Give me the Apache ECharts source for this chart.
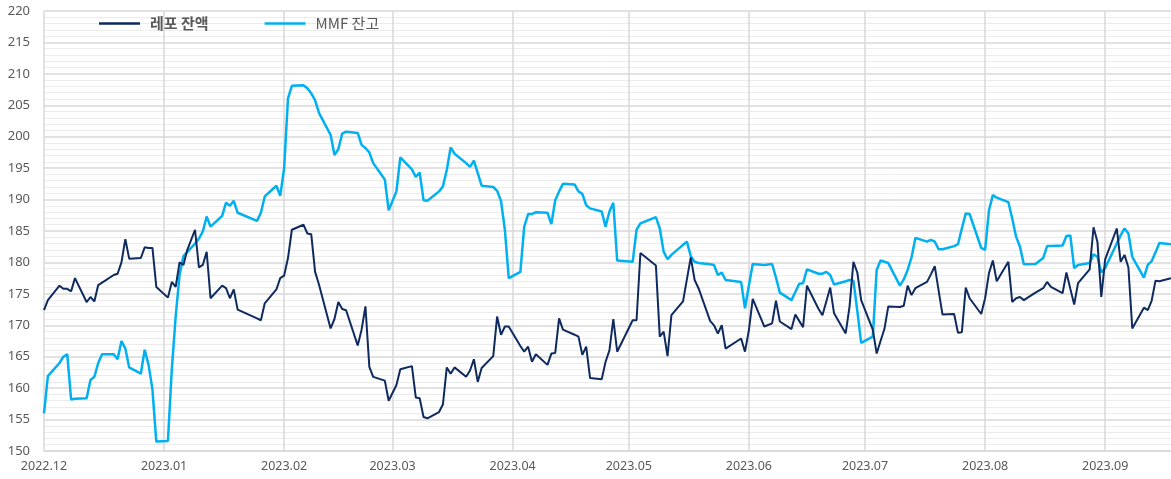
<!DOCTYPE html>
<html>
<head>
<meta charset="utf-8">
<script src="https://cdn.jsdelivr.net/npm/echarts@6/dist/echarts.min.js"></script>
<style>
html,body{margin:0;padding:0;background:#fff;}
#chart{width:1171px;height:479px;}
</style>
</head>
<body>
<div id="chart"></div>
<script>
// Axis range
const startDate = '2022-12-01';
const endDate = '2023-09-18';
const yTicks = [150,155,160,165,170,175,180,185,190,195,200,205,210,215,220];
const seriesNames = ['레포 잔액', 'MMF 잔고'];

// 레포 잔액
const repoDates = [
'2022-12-01','2022-12-02','2022-12-05','2022-12-06','2022-12-07','2022-12-08','2022-12-09',
'2022-12-12','2022-12-13','2022-12-14','2022-12-15','2022-12-16','2022-12-19','2022-12-20',
'2022-12-21','2022-12-22','2022-12-23','2022-12-26','2022-12-27','2022-12-28','2022-12-29',
'2022-12-30','2023-01-02','2023-01-03','2023-01-04','2023-01-05','2023-01-06','2023-01-07',
'2023-01-09','2023-01-10','2023-01-11','2023-01-12','2023-01-13','2023-01-16','2023-01-17',
'2023-01-18','2023-01-19','2023-01-20','2023-01-25','2023-01-26','2023-01-27','2023-01-30',
'2023-01-31','2023-02-01','2023-02-02','2023-02-03','2023-02-06','2023-02-07','2023-02-08',
'2023-02-09','2023-02-10','2023-02-13','2023-02-14','2023-02-15','2023-02-16','2023-02-17',
'2023-02-20','2023-02-21','2023-02-22','2023-02-23','2023-02-24','2023-02-27','2023-02-28',
'2023-03-02','2023-03-03','2023-03-06','2023-03-07','2023-03-08','2023-03-09','2023-03-10',
'2023-03-13','2023-03-14','2023-03-15','2023-03-16','2023-03-17','2023-03-20','2023-03-21',
'2023-03-22','2023-03-23','2023-03-24','2023-03-27','2023-03-28','2023-03-29','2023-03-30',
'2023-03-31','2023-04-03','2023-04-04','2023-04-05','2023-04-06','2023-04-07','2023-04-10',
'2023-04-11','2023-04-12','2023-04-13','2023-04-14','2023-04-17','2023-04-18','2023-04-19',
'2023-04-20','2023-04-21','2023-04-24','2023-04-25','2023-04-26','2023-04-27','2023-04-28',
'2023-05-02','2023-05-03','2023-05-04','2023-05-08','2023-05-09','2023-05-10','2023-05-11',
'2023-05-12','2023-05-15','2023-05-16','2023-05-17','2023-05-18','2023-05-19','2023-05-22',
'2023-05-23','2023-05-24','2023-05-25','2023-05-26','2023-05-30','2023-05-31','2023-06-01',
'2023-06-02','2023-06-05','2023-06-07','2023-06-08','2023-06-09','2023-06-12','2023-06-13',
'2023-06-14','2023-06-15','2023-06-16','2023-06-19','2023-06-20','2023-06-21','2023-06-22',
'2023-06-23','2023-06-26','2023-06-27','2023-06-28','2023-06-29','2023-06-30','2023-07-03',
'2023-07-04','2023-07-05','2023-07-06','2023-07-07','2023-07-10','2023-07-11','2023-07-12',
'2023-07-13','2023-07-14','2023-07-17','2023-07-18','2023-07-19','2023-07-20','2023-07-21',
'2023-07-24','2023-07-25','2023-07-26','2023-07-27','2023-07-28','2023-07-31','2023-08-01',
'2023-08-02','2023-08-03','2023-08-04','2023-08-07','2023-08-08','2023-08-09','2023-08-10',
'2023-08-11','2023-08-14','2023-08-16','2023-08-17','2023-08-18','2023-08-21','2023-08-22',
'2023-08-23','2023-08-24','2023-08-25','2023-08-28','2023-08-29','2023-08-30','2023-08-31',
'2023-09-01','2023-09-04','2023-09-05','2023-09-06','2023-09-07','2023-09-08','2023-09-11',
'2023-09-12','2023-09-13','2023-09-14','2023-09-15','2023-09-18'
];
const repoValues = [
172.4,174.0,176.3,175.8,175.8,175.4,177.5,
173.7,174.5,173.8,176.4,176.8,178.0,178.2,
180.0,183.7,180.6,180.7,182.4,182.3,182.3,
176.1,174.4,176.9,176.1,180.0,179.6,182.0,
185.2,179.2,179.6,181.7,174.3,176.3,175.9,
174.3,175.7,172.5,171.1,170.8,173.5,175.7,
177.5,177.9,180.7,185.2,186.0,184.6,184.5,
178.5,176.5,169.5,171.0,173.7,172.6,172.4,
166.8,169.3,173.0,163.4,161.8,161.2,158.0,
160.5,163.0,163.5,158.5,158.4,155.4,155.2,
156.2,157.4,163.3,162.3,163.3,161.8,162.8,
164.6,161.0,163.2,165.1,171.4,168.5,169.8,
169.8,166.7,165.8,166.6,164.2,165.4,163.7,
165.5,165.6,171.1,169.3,168.5,168.2,165.3,
166.6,161.6,161.4,164.2,166.0,171.0,165.8,
170.8,170.8,181.5,179.5,168.2,169.0,165.1,
171.6,173.8,177.3,180.8,177.2,175.9,170.7,
170.0,168.7,170.0,166.3,167.9,165.8,169.2,
174.2,169.8,170.3,173.9,170.6,169.4,171.7,
170.7,169.7,176.3,172.6,171.6,173.8,176.0,
171.9,168.7,173.0,180.1,178.4,174.0,169.3,
165.5,167.5,169.4,173.0,172.9,173.1,176.3,
174.8,175.9,176.9,178.1,179.4,175.5,171.7,
171.8,168.8,168.9,176.0,174.3,171.8,174.3,
178.3,180.3,177.0,180.1,173.7,174.3,174.5,
174.0,175.2,175.9,176.9,176.1,175.1,178.4,
175.8,173.3,176.7,178.9,185.6,183.3,174.5,
180.5,185.4,180.1,181.2,179.2,169.5,172.8,
172.4,173.9,177.1,177.0,177.5
];

// MMF 잔고
const mmfDates = [
'2022-12-01','2022-12-02','2022-12-05','2022-12-06','2022-12-07','2022-12-08','2022-12-09',
'2022-12-12','2022-12-13','2022-12-14','2022-12-15','2022-12-16','2022-12-19','2022-12-20',
'2022-12-21','2022-12-22','2022-12-23','2022-12-26','2022-12-27','2022-12-28','2022-12-29',
'2022-12-30','2023-01-02','2023-01-03','2023-01-04','2023-01-05','2023-01-06','2023-01-09',
'2023-01-10','2023-01-11','2023-01-12','2023-01-13','2023-01-16','2023-01-17','2023-01-18',
'2023-01-19','2023-01-20','2023-01-25','2023-01-26','2023-01-27','2023-01-30','2023-01-31',
'2023-02-01','2023-02-02','2023-02-03','2023-02-06','2023-02-07','2023-02-08','2023-02-09',
'2023-02-10','2023-02-13','2023-02-14','2023-02-15','2023-02-16','2023-02-17','2023-02-20',
'2023-02-21','2023-02-22','2023-02-23','2023-02-24','2023-02-27','2023-02-28','2023-03-02',
'2023-03-03','2023-03-06','2023-03-07','2023-03-08','2023-03-09','2023-03-10','2023-03-13',
'2023-03-14','2023-03-15','2023-03-16','2023-03-17','2023-03-20','2023-03-21','2023-03-22',
'2023-03-23','2023-03-24','2023-03-27','2023-03-28','2023-03-29','2023-03-30','2023-03-31',
'2023-04-03','2023-04-04','2023-04-05','2023-04-06','2023-04-07','2023-04-10','2023-04-11',
'2023-04-12','2023-04-13','2023-04-14','2023-04-17','2023-04-18','2023-04-19','2023-04-20',
'2023-04-21','2023-04-24','2023-04-25','2023-04-26','2023-04-27','2023-04-28','2023-05-02',
'2023-05-03','2023-05-04','2023-05-08','2023-05-09','2023-05-10','2023-05-11','2023-05-12',
'2023-05-15','2023-05-16','2023-05-17','2023-05-18','2023-05-19','2023-05-22','2023-05-23',
'2023-05-24','2023-05-25','2023-05-26','2023-05-30','2023-05-31','2023-06-01','2023-06-02',
'2023-06-05','2023-06-07','2023-06-08','2023-06-09','2023-06-12','2023-06-13','2023-06-14',
'2023-06-15','2023-06-16','2023-06-19','2023-06-20','2023-06-21','2023-06-22','2023-06-23',
'2023-06-26','2023-06-27','2023-06-28','2023-06-29','2023-06-30','2023-07-03','2023-07-04',
'2023-07-05','2023-07-06','2023-07-07','2023-07-10','2023-07-11','2023-07-12','2023-07-13',
'2023-07-14','2023-07-17','2023-07-18','2023-07-19','2023-07-20','2023-07-21','2023-07-24',
'2023-07-25','2023-07-26','2023-07-27','2023-07-28','2023-07-31','2023-08-01','2023-08-02',
'2023-08-03','2023-08-04','2023-08-07','2023-08-08','2023-08-09','2023-08-10','2023-08-11',
'2023-08-14','2023-08-16','2023-08-17','2023-08-18','2023-08-21','2023-08-22','2023-08-23',
'2023-08-24','2023-08-25','2023-08-28','2023-08-29','2023-08-30','2023-08-31','2023-09-01',
'2023-09-04','2023-09-05','2023-09-06','2023-09-07','2023-09-08','2023-09-11','2023-09-12',
'2023-09-13','2023-09-14','2023-09-15','2023-09-18'
];
const mmfValues = [
156.0,161.9,164.0,165.0,165.4,158.2,158.3,
158.4,161.3,161.8,164.0,165.4,165.4,164.6,
167.5,166.3,163.3,162.3,166.1,163.7,159.8,
151.5,151.6,163.0,171.4,178.0,181.0,183.0,
183.8,184.9,187.3,185.7,187.4,189.5,189.0,
189.8,187.9,186.6,187.9,190.5,192.2,190.6,
195.0,206.1,208.1,208.2,207.7,206.9,205.8,
203.8,200.3,197.1,198.0,200.5,200.8,200.6,
198.7,198.2,197.5,195.8,193.2,188.3,191.3,
196.7,194.8,193.6,194.3,189.9,189.8,191.3,
192.1,194.7,198.3,197.3,195.8,195.2,196.2,
194.2,192.2,192.0,191.4,189.8,185.2,177.5,
178.5,185.7,187.7,187.7,188.0,187.9,186.1,
189.9,191.3,192.5,192.4,191.3,190.9,189.1,
188.6,188.1,185.7,188.1,189.5,180.3,180.1,
185.2,186.2,187.2,185.4,181.7,180.5,181.2,
182.8,183.3,181.0,180.1,179.9,179.7,179.6,
178.0,178.4,177.2,176.9,172.7,176.3,179.75,
179.6,179.75,177.6,175.2,174.0,175.3,176.6,
176.7,178.9,178.2,178.2,178.5,178.0,176.5,
177.0,177.2,177.1,172.3,167.2,168.2,178.8,
180.3,180.1,179.9,176.3,177.3,178.8,180.8,
183.9,183.3,183.6,183.3,182.1,182.1,182.6,
182.9,185.4,187.8,187.7,182.3,182.0,188.3,
190.7,190.3,189.6,187.0,184.1,182.5,179.7,
179.75,180.7,182.6,182.6,182.7,184.2,184.3,
179.1,179.6,179.9,181.3,180.9,178.4,179.1,
183.0,184.3,185.4,184.6,180.9,177.6,179.6,
180.2,181.6,183.1,182.9
];

// Build a calendar-day category list and map series onto it
function fmt(d){
  const m = d.getUTCMonth()+1, dd = d.getUTCDate();
  return d.getUTCFullYear()+'-'+(m<10?'0':'')+m+'-'+(dd<10?'0':'')+dd;
}
const categories = [];
for (let d = new Date(startDate+'T00:00:00Z'); fmt(d) <= endDate; d.setUTCDate(d.getUTCDate()+1)) {
  categories.push(fmt(d));
}
function mapSeries(dates, values){
  const idx = {};
  dates.forEach((d,i)=>{ idx[d]=values[i]; });
  return categories.map(c => (c in idx) ? idx[c] : null);
}
const isMonthStart = (i, v) => v.slice(8) === '01';

const chart = echarts.init(document.getElementById('chart'), null, {renderer:'canvas'});
const fontFam = '"Noto Sans", "Noto Sans CJK KR", sans-serif';
chart.setOption({
  animation: false,
  backgroundColor: '#ffffff',
  textStyle: {fontFamily: fontFam},
  legend: {
    left: 99,
    top: 16,
    padding: 0,
    icon: 'rect',
    itemWidth: 41,
    itemHeight: 2.5,
    itemGap: 56,
    textStyle: {color: '#595959', fontSize: 15, fontFamily: '"Noto Sans CJK KR", sans-serif', padding: [0,0,0,5]},
    data: [
      {name: seriesNames[0], textStyle: {fontWeight: 'bold'}},
      {name: seriesNames[1], textStyle: {fontWeight: 'normal'}}
    ]
  },
  grid: {left: 44, right: 0, top: 11, bottom: 28, containLabel: false},
  xAxis: {
    type: 'category',
    boundaryGap: false,
    data: categories,
    axisLine: {show: true, lineStyle: {color: '#d9d9d9', width: 1.5}},
    axisTick: {show: false},
    axisLabel: {
      interval: isMonthStart,
      color: '#595959',
      fontSize: 12.5,
      margin: 9,
      formatter: v => v.slice(0,4)+'.'+v.slice(5,7)
    },
    splitLine: {show: true, interval: isMonthStart, lineStyle: {color: '#d9d9d9', width: 1.5}}
  },
  yAxis: {
    type: 'value',
    min: yTicks[0],
    max: yTicks[yTicks.length-1],
    interval: 5,
    axisLine: {show: false},
    axisTick: {show: false},
    axisLabel: {color: '#595959', fontSize: 13, margin: 14},
    splitLine: {show: true, lineStyle: {color: '#d9d9d9', width: 1.5}},
    minorTick: {show: false, splitNumber: 5},
    minorSplitLine: {show: true, lineStyle: {color: '#ececec', width: 1}}
  },
  series: [
    {
      name: seriesNames[0], type: 'line', data: mapSeries(repoDates, repoValues),
      connectNulls: true, showSymbol: false, symbol: 'none', z: 3,
      lineStyle: {color: '#0E2A5F', width: 2}, itemStyle: {color: '#0E2A5F'}
    },
    {
      name: seriesNames[1], type: 'line', data: mapSeries(mmfDates, mmfValues),
      connectNulls: true, showSymbol: false, symbol: 'none', z: 2,
      lineStyle: {color: '#00B0F0', width: 2.5}, itemStyle: {color: '#00B0F0'}
    }
  ]
});
</script>
</body>
</html>
